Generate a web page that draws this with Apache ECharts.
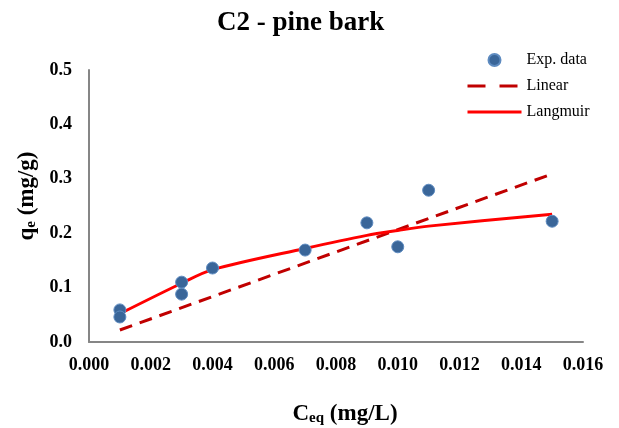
<!DOCTYPE html>
<html>
<head>
	<meta charset="utf-8">
	<title>C2 - pine bark</title>
	<style type="text/css">
		body { margin: 0; padding: 0; background: #fff; }
		#main { width: 619px; height: 428px; }
	</style>
	<script src="https://cdn.jsdelivr.net/npm/echarts@6/dist/echarts.min.js"></script>
</head>
<body>
	<div id="main"></div>
	<script type="text/javascript">
	// experimental points (Ceq, qe)
	var expC = [0.001, 0.001, 0.003, 0.003, 0.004, 0.007, 0.009, 0.010, 0.011, 0.015];
	var expQ = [0.059, 0.046, 0.110, 0.088, 0.136, 0.169, 0.219, 0.175, 0.279, 0.222];

	// linear fit
	var linC = [0.001, 0.015];
	var linQ = [0.022, 0.309];

	// langmuir fit
	var lanC = [0.001, 0.003, 0.004, 0.007, 0.009, 0.010, 0.011, 0.015];
	var lanQ = [0.052, 0.108, 0.133, 0.172, 0.196, 0.205, 0.213, 0.235];

	var xTicks = [0, 0.016, 0.002];
	var yTicks = [0, 0.5, 0.1];

	function pairs(xs, ys) {
		var out = [];
		for (var i = 0; i < xs.length; i++) out.push([xs[i], ys[i]]);
		return out;
	}

	var font = '"Liberation Serif", "Times New Roman", serif';
	var nameRich = {
		b: { fontFamily: font, fontSize: 23, fontWeight: 'bold', color: '#000' },
		s: { fontFamily: font, fontSize: 15, fontWeight: 'bold', color: '#000', verticalAlign: 'bottom', padding: [9, 0, 0, 0] }
	};

	var chart = echarts.init(document.getElementById('main'));
	chart.setOption({
		animation: false,
		title: {
			text: 'C2 - pine bark',
			left: 212,
			top: 5,
			textStyle: { fontFamily: font, fontSize: 27, fontWeight: 'bold', color: '#000' }
		},
		legend: {
			orient: 'vertical',
			left: 461,
			top: 47,
			itemWidth: 54,
			itemHeight: 12,
			itemGap: 10,
			textStyle: { fontFamily: font, fontSize: 16, color: '#000' },
			data: [
				{ name: 'Exp. data', icon: 'circle' },
				{ name: 'Linear', itemStyle: { opacity: 0 }, lineStyle: { width: 3, type: [18, 14] } },
				{ name: 'Langmuir', itemStyle: { opacity: 0 }, lineStyle: { width: 3 } }
			]
		},
		grid: { left: 89, right: 36, top: 70, bottom: 86, outerBoundsMode: 'none' },
		xAxis: {
			type: 'value',
			min: xTicks[0], max: xTicks[1], interval: xTicks[2],
			name: '{b|C}{s|eq}{b| (mg/L)}',
			nameLocation: 'middle',
			nameGap: 60,
			nameTextStyle: { padding: [0, 0, 0, 18], rich: nameRich },
			axisLine: { lineStyle: { color: '#868686', width: 2 } },
			axisTick: { show: false },
			splitLine: { show: false },
			axisLabel: {
				margin: 14,
				fontFamily: font, fontSize: 18, fontWeight: 'bold', color: '#000',
				formatter: function (v) { return v.toFixed(3); }
			}
		},
		yAxis: {
			type: 'value',
			min: yTicks[0], max: yTicks[1], interval: yTicks[2],
			name: '{b|q}{s|e}{b| (mg/g)}',
			nameLocation: 'middle',
			nameGap: 48,
			nameTextStyle: { padding: [0, 0, 0, 20], rich: nameRich },
			axisLine: { show: true, lineStyle: { color: '#868686', width: 2 } },
			axisTick: { show: false },
			splitLine: { show: false },
			axisLabel: {
				margin: 17,
				fontFamily: font, fontSize: 18, fontWeight: 'bold', color: '#000',
				formatter: function (v) { return v.toFixed(1); }
			}
		},
		series: [
			{
				name: 'Exp. data',
				type: 'scatter',
				z: 5,
				symbolSize: 12,
				itemStyle: { color: '#3A6699', borderColor: '#5E8BC0', borderWidth: 1, opacity: 1 },
				data: pairs(expC, expQ)
			},
			{
				name: 'Linear',
				type: 'line',
				symbol: 'none',
				color: '#C00000',
				lineStyle: { color: '#C00000', width: 3, type: [13, 8] },
				data: pairs(linC, linQ)
			},
			{
				name: 'Langmuir',
				type: 'line',
				symbol: 'none',
				smooth: 0.3,
				color: '#FF0000',
				lineStyle: { color: '#FF0000', width: 3 },
				data: pairs(lanC, lanQ)
			}
		]
	});
	</script>
</body>
</html>
